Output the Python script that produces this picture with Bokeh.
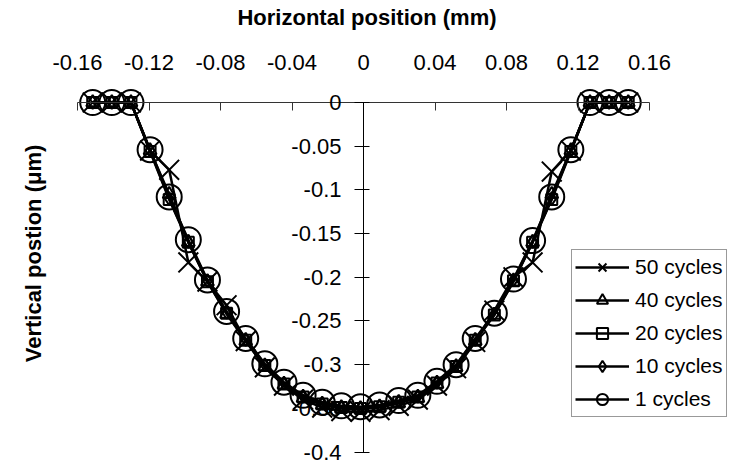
import math
from bokeh.plotting import figure
from bokeh.models import (LinearAxis, FixedTicker, Range1d, Label, Legend,
                          LegendItem, CustomJSTickFormatter)
from bokeh.embed import file_html
from bokeh.resources import INLINE

# ---------------- data ----------------
x_pos = [-0.1515, -0.1408, -0.1301, -0.1194, -0.1087, -0.0980, -0.0873, -0.0766,
         -0.0659, -0.0552, -0.0445, -0.0338, -0.0231, -0.0124, -0.0017, 0.0090,
         0.0197, 0.0304, 0.0411, 0.0518, 0.0625, 0.0732, 0.0839, 0.0946, 0.1053,
         0.1160, 0.1267, 0.1374, 0.1481]

cycles_50 = [0, 0, 0, -0.055, -0.077, -0.183, -0.205, -0.232, -0.273, -0.303,
             -0.324, -0.340, -0.349, -0.353, -0.354, -0.352, -0.347, -0.340,
             -0.324, -0.304, -0.274, -0.238, -0.200, -0.183, -0.079, -0.055, 0, 0, 0]
cycles_40 = [0, 0, 0, -0.055, -0.105, -0.160, -0.205, -0.242, -0.273, -0.302,
             -0.323, -0.338, -0.346, -0.350, -0.351, -0.349, -0.344, -0.338,
             -0.322, -0.303, -0.273, -0.243, -0.205, -0.160, -0.105, -0.055, 0, 0, 0]
cycles_20 = [0, 0, 0, -0.056, -0.111, -0.160, -0.205, -0.241, -0.272, -0.301,
             -0.322, -0.337, -0.345, -0.349, -0.350, -0.348, -0.343, -0.337,
             -0.321, -0.302, -0.272, -0.243, -0.204, -0.160, -0.111, -0.056, 0, 0, 0]
cycles_10 = [0, 0, 0, -0.055, -0.110, -0.159, -0.204, -0.240, -0.271, -0.300,
             -0.321, -0.336, -0.344, -0.348, -0.349, -0.347, -0.342, -0.336,
             -0.320, -0.301, -0.271, -0.242, -0.203, -0.159, -0.110, -0.055, 0, 0, 0]
cycles_1 = [0, 0, 0, -0.054, -0.108, -0.157, -0.203, -0.239, -0.270, -0.299,
            -0.320, -0.335, -0.343, -0.347, -0.348, -0.346, -0.341, -0.335,
            -0.319, -0.300, -0.270, -0.241, -0.202, -0.158, -0.108, -0.054, 0, 0, 0]

series_names = ["50 cycles", "40 cycles", "20 cycles", "10 cycles", "1 cycles"]

x_ticks = [-0.16, -0.12, -0.08, -0.04, 0.0, 0.04, 0.08, 0.12, 0.16]
x_tick_labels = ["-0.16", "-0.12", "-0.08", "-0.04", "0", "0.04", "0.08", "0.12", "0.16"]
y_ticks = [0.0, -0.05, -0.1, -0.15, -0.2, -0.25, -0.3, -0.35, -0.4]
y_tick_labels = ["0", "-0.05", "-0.1", "-0.15", "-0.2", "-0.25", "-0.3", "-0.35", "-0.4"]

x_title = "Horizontal position (mm)"
y_title = "Vertical postion (\u03bcm)"

# ---------------- figure ----------------
FONT = "Liberation Sans"
FS = "22px"
W, H = 733, 467

p = figure(width=W, height=H,
           x_range=Range1d(-0.20308, 0.20699),
           y_range=Range1d(-0.41762, 0.11670),
           output_backend="svg", toolbar_location=None,
           x_axis_location=None, y_axis_location=None,
           min_border=0, outline_line_color=None,
           background_fill_color="white", border_fill_color="white")
p.grid.grid_line_color = None

# horizontal axis line through y = 0 with ticks pointing down
ax_line = LinearAxis(fixed_location=0, ticker=FixedTicker(ticks=x_ticks),
                     bounds=(-0.16, 0.16),
                     formatter=CustomJSTickFormatter(code="return ''"),
                     major_tick_in=0, major_tick_out=8,
                     minor_tick_line_color=None,
                     axis_line_color="#333333", major_tick_line_color="#333333",
                     axis_line_width=1)
p.add_layout(ax_line, "below")

# top labels + title
ax_top = LinearAxis(fixed_location=0.0372, ticker=FixedTicker(ticks=x_ticks),
                    major_label_overrides=dict(zip(x_ticks, x_tick_labels)),
                    axis_line_color=None, major_tick_line_color=None,
                    minor_tick_line_color=None, major_tick_in=0, major_tick_out=0,
                    major_label_standoff=0,
                    major_label_text_font=FONT, major_label_text_font_size=FS,
                    major_label_text_color="black",
                    axis_label=x_title, axis_label_text_font=FONT,
                    axis_label_text_font_size=FS,
                    axis_label_text_font_style="bold",
                    axis_label_text_color="black",
                    axis_label_standoff=22)
p.add_layout(ax_top, "above")

# vertical axis through x = 0
ay = LinearAxis(fixed_location=0, ticker=FixedTicker(ticks=y_ticks),
                bounds=(-0.4, 0.0),
                major_label_overrides=dict(zip(y_ticks, y_tick_labels)),
                major_tick_in=6, major_tick_out=9, major_label_standoff=13,
                minor_tick_line_color=None,
                axis_line_color="black", major_tick_line_color="black",
                major_label_text_font=FONT, major_label_text_font_size=FS,
                major_label_text_color="black")
p.add_layout(ay, "left")

p.add_layout(Label(x=33, y=H - 253, x_units="screen", y_units="screen",
                   text=y_title, angle=math.pi / 2, text_align="center",
                   text_baseline="middle", text_font=FONT,
                   text_font_size=FS, text_font_style="bold",
                   text_color="black"))

# ---------------- series ----------------
all_series = [cycles_50, cycles_40, cycles_20, cycles_10, cycles_1]
markers = ["x", "triangle", "square", "diamond", "circle"]
sizes = [28, 13, 11, 13, 25]

items = []
for name, ys, mk, sz in zip(series_names, all_series, markers, sizes):
    lr = p.line(x_pos, ys, line_color="black", line_width=2.5)
    sr = p.scatter(x_pos, ys, marker=mk, size=sz, line_color="black",
                   fill_color=None, line_width=2)
    items.append(LegendItem(label=name, renderers=[lr, sr]))

legend = Legend(items=items, location=(571, 50),
                border_line_color="#333333", border_line_width=1,
                background_fill_color="white", background_fill_alpha=1,
                label_text_font=FONT, label_text_font_size="21px",
                label_text_color="black",
                glyph_width=54, glyph_height=28, spacing=5, padding=3,
                label_standoff=6, margin=0, label_height=28)
p.add_layout(legend)

open("out.html", "w").write(file_html(p, INLINE))
